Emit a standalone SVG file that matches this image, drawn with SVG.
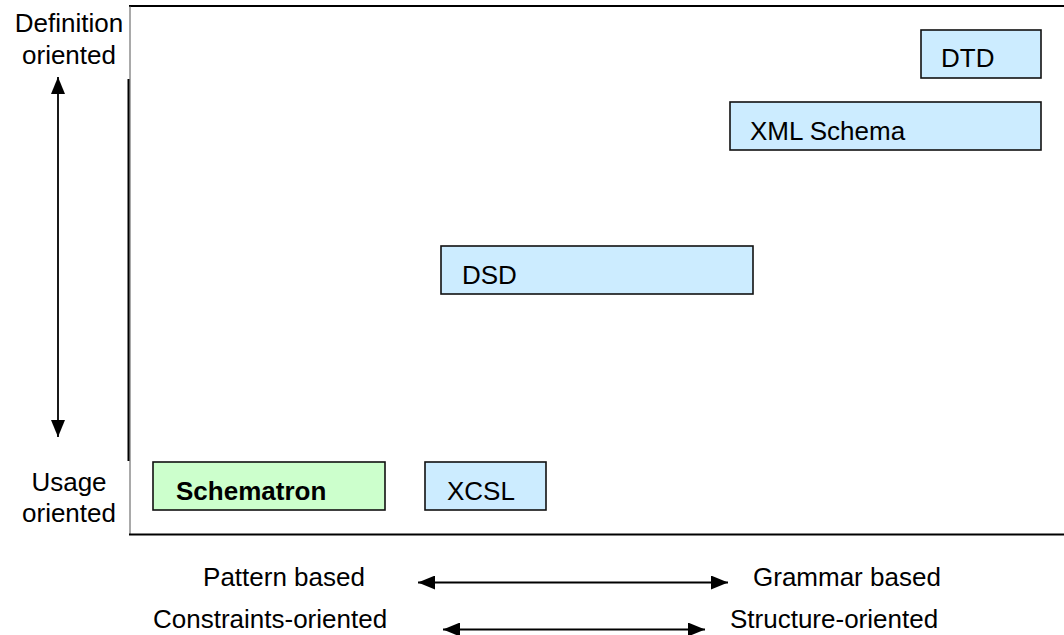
<svg xmlns="http://www.w3.org/2000/svg" width="1064" height="635" viewBox="0 0 1064 635">
<style>
text{font-family:"Liberation Sans",Arial,sans-serif;font-size:26px;fill:#000}
.box rect{stroke:#111;stroke-width:1.6}
.blue{fill:#CCECFF}
.green{fill:#CCFFCC}
.ax{stroke:#000;stroke-width:1.8;fill:none}
</style>
<defs>
<marker id="ah" viewBox="0 0 17 14" refX="17" refY="7" markerWidth="17" markerHeight="14" markerUnits="userSpaceOnUse" orient="auto-start-reverse">
<path d="M0,0 L17,7 L0,14 Z" fill="#000"/>
</marker>
</defs>
<rect width="1064" height="635" fill="#fff"/>
<g id="frame">
<line x1="129" y1="6" x2="1064" y2="6" stroke="#000" stroke-width="2"/>
<line x1="130" y1="6" x2="130" y2="535" stroke="#555" stroke-width="1"/>
<line x1="128.5" y1="79" x2="128.5" y2="461" stroke="#000" stroke-width="2"/>
<line x1="129" y1="534.5" x2="1064" y2="534.5" stroke="#000" stroke-width="2"/>
</g>
<g id="axis-labels">
<text x="69" y="32" text-anchor="middle">Definition</text>
<text x="69" y="64" text-anchor="middle">oriented</text>
<text x="69" y="491" text-anchor="middle">Usage</text>
<text x="69" y="522" text-anchor="middle">oriented</text>
<text x="284" y="586" text-anchor="middle">Pattern based</text>
<text x="753" y="586">Grammar based</text>
<text x="153" y="628">Constraints-oriented</text>
<text x="730" y="628">Structure-oriented</text>
</g>
<g id="connectors">
<line class="ax" x1="58" y1="77" x2="58" y2="437" marker-start="url(#ah)" marker-end="url(#ah)"/>
<line class="ax" x1="418" y1="582.5" x2="728" y2="582.5" marker-start="url(#ah)" marker-end="url(#ah)"/>
<line class="ax" x1="443" y1="629.5" x2="705" y2="629.5" marker-start="url(#ah)" marker-end="url(#ah)"/>
</g>
<g id="dtd" class="box">
<rect class="blue" x="921" y="30" width="120" height="48"/>
<text x="941" y="67">DTD</text>
</g>
<g id="xml-schema" class="box">
<rect class="blue" x="730" y="102" width="311" height="48"/>
<text x="750" y="140">XML Schema</text>
</g>
<g id="dsd" class="box">
<rect class="blue" x="441" y="246" width="312" height="48"/>
<text x="462" y="284">DSD</text>
</g>
<g id="schematron" class="box">
<rect class="green" x="153" y="462" width="232" height="48"/>
<text x="176" y="500" font-weight="bold">Schematron</text>
</g>
<g id="xcsl" class="box">
<rect class="blue" x="425" y="462" width="121" height="48"/>
<text x="447" y="500">XCSL</text>
</g>
</svg>
